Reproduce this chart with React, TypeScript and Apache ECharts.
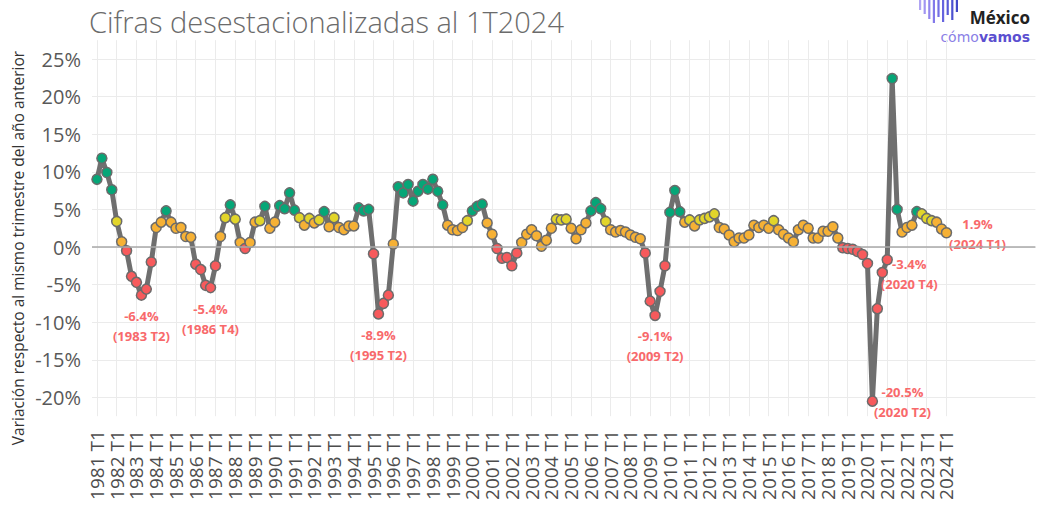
import React, { useEffect, useRef } from "react";
import * as echarts from "echarts";

const firstYear = 1981;
const lastYear = 2024;

// Quarterly YoY variation (%), 1981 T1 .. 2024 T1
const values: number[] = [
  9.0, 11.8, 9.9, 7.6, // 1981
  3.4, 0.7, -0.5, -3.9, // 1982
  -4.7, -6.4, -5.6, -2.0, // 1983
  2.6, 3.3, 4.8, 3.3, // 1984
  2.5, 2.6, 1.4, 1.3, // 1985
  -2.3, -3.0, -5.1, -5.4, // 1986
  -2.5, 1.4, 3.9, 5.6, // 1987
  3.7, 0.6, -0.2, 0.6, // 1988
  3.3, 3.5, 5.4, 2.5, // 1989
  3.3, 5.5, 5.1, 7.2, // 1990
  4.9, 3.9, 2.9, 3.8, // 1991
  3.2, 3.6, 4.7, 2.7, // 1992
  3.9, 2.6, 2.3, 2.8, // 1993
  2.8, 5.2, 4.8, 5.0, // 1994
  -0.9, -8.9, -7.5, -6.4, // 1995
  0.4, 8.0, 7.2, 8.3, // 1996
  6.1, 7.4, 8.3, 7.7, // 1997
  9.0, 7.4, 5.6, 2.9, // 1998
  2.3, 2.2, 2.6, 3.5, // 1999
  4.8, 5.4, 5.7, 3.2, // 2000
  1.7, -0.2, -1.5, -1.4, // 2001
  -2.5, -0.8, 0.6, 1.7, // 2002
  2.3, 1.5, 0.1, 0.9, // 2003
  2.5, 3.7, 3.6, 3.7, // 2004
  2.5, 1.1, 2.3, 3.2, // 2005
  4.8, 5.9, 5.1, 3.4, // 2006
  2.3, 2.0, 2.2, 2.0, // 2007
  1.6, 1.3, 1.1, -0.8, // 2008
  -7.2, -9.1, -5.9, -2.5, // 2009
  4.6, 7.5, 4.7, 3.3, // 2010
  3.6, 2.8, 3.6, 3.8, // 2011
  4.0, 4.4, 2.6, 2.4, // 2012
  1.6, 0.7, 1.2, 1.2, // 2013
  1.6, 2.9, 2.6, 2.9, // 2014
  2.5, 3.5, 2.3, 1.7, // 2015
  1.2, 0.7, 2.3, 2.9, // 2016
  2.5, 1.2, 1.2, 2.1, // 2017
  2.1, 2.7, 1.2, -0.1, // 2018
  -0.2, -0.3, -0.6, -1.0, // 2019
  -2.2, -20.5, -8.2, -3.4, // 2020
  -1.7, 22.4, 5.0, 2.0, // 2021
  2.6, 2.9, 4.7, 4.4, // 2022
  3.8, 3.5, 3.3, 2.4, // 2023
  1.9, // 2024
];

// Annotated points
const annotations = [
  { quarter: "1983 T2", text: "-6.4%", place: "below" },
  { quarter: "1986 T4", text: "-5.4%", place: "below" },
  { quarter: "1995 T2", text: "-8.9%", place: "below" },
  { quarter: "2009 T2", text: "-9.1%", place: "below" },
  { quarter: "2020 T2", text: "-20.5%", place: "right" },
  { quarter: "2020 T4", text: "-3.4%", place: "right2" },
  { quarter: "2024 T1", text: "1.9%", place: "right3" },
];

const yTicks = [-20, -15, -10, -5, 0, 5, 10, 15, 20, 25];

// Colour bands: below 0 red, then orange, yellow, green
const colorBreaks = [0, 3.35, 4.5];
const bandColors = ["#f75a5c", "#f6b135", "#e2d52a", "#05a677"];

const quarters: string[] = [];
for (let y = firstYear; y <= lastYear; y++) {
  for (let q = 1; q <= 4; q++) {
    if (quarters.length < values.length) quarters.push(`${y} T${q}`);
  }
}

const LEAD = 1;
const TRAIL = 18;

function colorFor(v: number): string {
  let i = 0;
  while (i < colorBreaks.length && v >= colorBreaks[i]) i++;
  return bandColors[i];
}

export default function App() {
  const ref = useRef<HTMLDivElement>(null);

  useEffect(() => {
    if (!ref.current) return;
    const chart = echarts.init(ref.current, undefined, { renderer: "svg" });

    const cats = [
      ...Array(LEAD).fill(""),
      ...quarters,
      ...Array(TRAIL).fill(""),
    ];
    const lineData: (number | null)[] = [
      ...Array(LEAD).fill(null),
      ...values,
    ];

    const annoColor = "#f8696b";
    const scatterData = values.map((v, i) => {
      const q = quarters[i];
      const a = annotations.find((x) => x.quarter === q);
      const item: any = { value: [i + LEAD, v] };
      if (a) {
        let offset = [0, 31];
        if (a.place === "right") offset = [30, 1];
        if (a.place === "right2") offset = [27, 1];
        if (a.place === "right3") offset = [31, 1];
        item.label = {
          show: true,
          position: "inside",
          offset,
          formatter: `${a.text}\n(${a.quarter})`,
          color: annoColor,
          fontSize: 13,
          fontWeight: "bold",
          fontFamily: "Open Sans",
          lineHeight: 20,
          align: "center",
          verticalAlign: "middle",
        };
      }
      return item;
    });

    const isT1 = (_i: number, v: string) => typeof v === "string" && v.endsWith(" T1");

    const bars = [
      { h: 10, c: "#b0a4f3" },
      { h: 14, c: "#a195f1" },
      { h: 19, c: "#9286ee" },
      { h: 23, c: "#8379ea" },
      { h: 17, c: "#746ee5" },
      { h: 22, c: "#6664df" },
      { h: 15, c: "#585ad8" },
      { h: 20, c: "#4c51d0" },
      { h: 12, c: "#4249c8" },
    ];

    chart.setOption({
      animation: false,
      backgroundColor: "#ffffff",
      grid: {
        left: 92,
        right: 6.6,
        top: 40.2,
        bottom: 91.8,
        containLabel: false,
        outerBoundsMode: "none",
      },
      xAxis: {
        type: "category",
        data: cats,
        boundaryGap: false,
        axisLine: { show: false },
        axisTick: { show: false },
        axisLabel: {
          interval: isT1,
          rotate: 90,
          fontSize: 19,
          color: "#4d4d4d",
          fontFamily: "Open Sans",
          margin: 14,
          hideOverlap: false,
        },
        splitLine: {
          show: true,
          interval: isT1,
          lineStyle: { color: "#ebebeb", width: 1 },
        },
      },
      yAxis: {
        type: "value",
        min: -22.5,
        max: 27.5,
        interval: 2.5,
        axisLine: { show: false },
        axisTick: { show: false },
        axisLabel: {
          formatter: (v: number) =>
            yTicks.some((t) => Math.abs(t - v) < 1e-6) ? `${Math.round(v)}%` : "",
          fontSize: 20,
          color: "#595959",
          fontFamily: "Open Sans",
          margin: 11,
        },
        splitLine: {
          show: true,
          lineStyle: { color: ["transparent", "#ebebeb"], width: 1 },
        },
      },
      series: [
        {
          type: "line",
          data: lineData,
          symbol: "none",
          lineStyle: { color: "#6f6f6f", width: 5, join: "round", cap: "round" },
          z: 2,
          markLine: {
            silent: true,
            symbol: "none",
            label: { show: false },
            lineStyle: { color: "#a8a8a8", width: 1.5, type: "solid" },
            data: [{ yAxis: 0 }],
          },
        },
        {
          type: "scatter",
          data: scatterData,
          symbolSize: 10,
          itemStyle: {
            color: (p: any) => colorFor(p.value[1]),
            borderColor: "#6b6b6b",
            borderWidth: 1.5,
            opacity: 1,
          },
          z: 3,
        },
      ],
      graphic: [
        {
          type: "text",
          x: 89,
          y: 21,
          style: {
            text: "Cifras desestacionalizadas al 1T2024",
            fontSize: 29,
            fontWeight: 300,
            fontFamily: "Open Sans",
            fill: "#6b6b6b",
            align: "left",
            verticalAlign: "middle",
          },
        },
        {
          type: "text",
          x: 18,
          y: 248,
          rotation: Math.PI / 2,
          style: {
            text: "Variación respecto al mismo trimestre del año anterior",
            fontSize: 15.5,
            fontFamily: "Open Sans",
            fill: "#333333",
            align: "center",
            verticalAlign: "middle",
          },
        },
        ...bars.map((b, i) => ({
          type: "rect",
          shape: { x: 919 + i * 4.6, y: 0, width: 2.2, height: b.h },
          style: { fill: b.c },
        })),
        {
          type: "text",
          x: 1030,
          y: 17,
          style: {
            text: "México",
            fontSize: 17,
            fontWeight: "bold",
            fontFamily: "Open Sans",
            fill: "#222222",
            align: "right",
            verticalAlign: "middle",
          },
        },
        {
          type: "text",
          x: 1030,
          y: 37,
          style: {
            text: "{a|cómo}{b|vamos}",
            align: "right",
            verticalAlign: "middle",
            rich: {
              a: { fontSize: 14, fontFamily: "DejaVu Sans", fill: "#8b7fe6", fontWeight: "normal" },
              b: { fontSize: 14, fontFamily: "DejaVu Sans", fill: "#5b4fd0", fontWeight: "bold" },
            },
          },
        },
      ],
    });

    return () => chart.dispose();
  }, []);

  return (
    <div
      ref={ref}
      style={{ position: "fixed", left: 0, top: 0, width: 1042, height: 508, background: "#fff" }}
    />
  );
}
